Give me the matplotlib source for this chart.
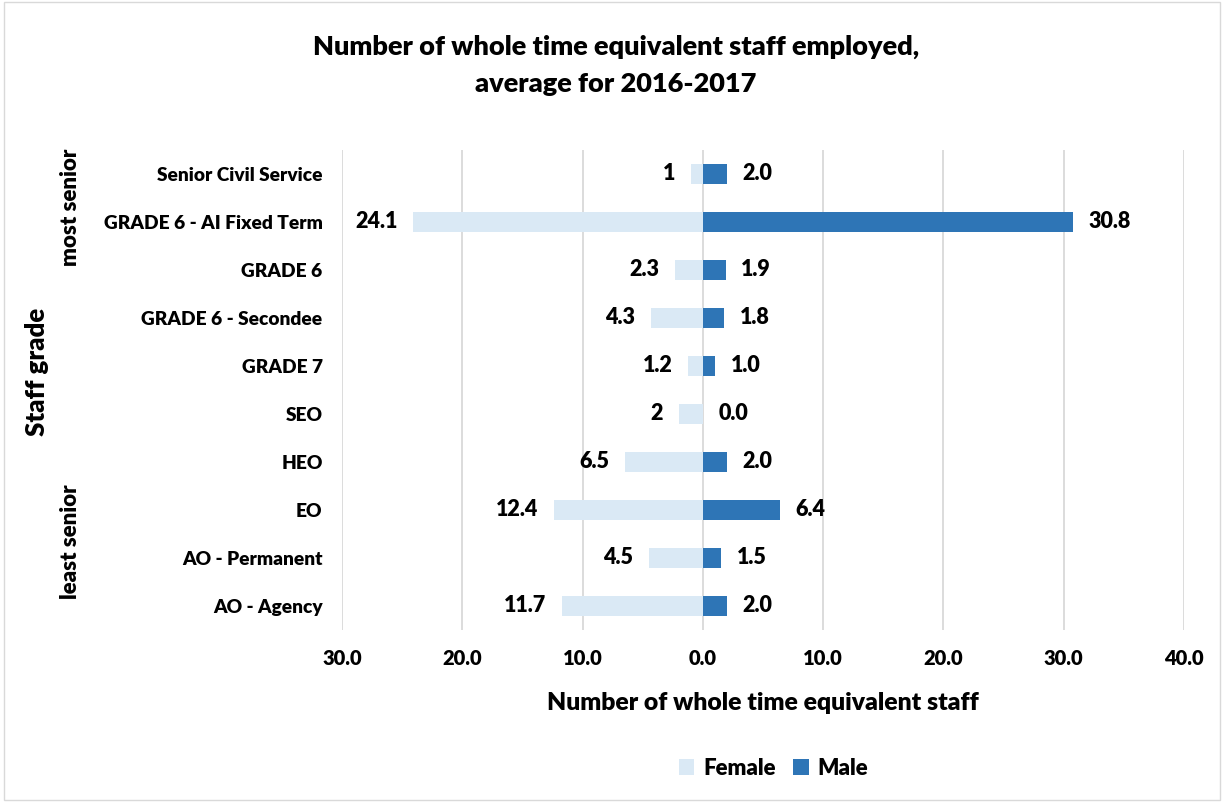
"""
Staff grade by gender: diverging horizontal bar chart.
"""

import numpy as np
import matplotlib.pyplot as plt
from matplotlib.patches import Rectangle

plt.rcParams['font.family'] = ['Lato', 'DejaVu Sans']
plt.rcParams['font.weight'] = 'heavy'
W = 'heavy'

# Data (top to bottom)
grades = ['Senior Civil Service', 'GRADE 6 - AI Fixed Term', 'GRADE 6',
          'GRADE 6 - Secondee', 'GRADE 7', 'SEO', 'HEO', 'EO',
          'AO - Permanent', 'AO - Agency']
female = [1, 24.1, 2.3, 4.3, 1.2, 2, 6.5, 12.4, 4.5, 11.7]
female_labels = ['1', '24.1', '2.3', '4.3', '1.2', '2', '6.5', '12.4', '4.5', '11.7']
male = [2.0, 30.8, 1.9, 1.8, 1.0, 0.0, 2.0, 6.4, 1.5, 2.0]
x_ticks = [-30, -20, -10, 0, 10, 20, 30, 40]

female_color = '#DAE9F5'
male_color = '#2E75B6'

fig = plt.figure(figsize=(12.24, 8.02), dpi=100)
ax = fig.add_axes([0.2794, 0.2145, 0.6879, 0.5985])

y = np.arange(len(grades))
bar_h = 0.42
ax.barh(y, -np.array(female), height=bar_h, color=female_color, zorder=3, label='Female')
ax.barh(y, male, height=bar_h, color=male_color, zorder=3, label='Male')

# data labels
for yi, f, lab in zip(y, female, female_labels):
    ax.text(-f - 1.3, yi, lab, ha='right', va='center', fontsize=15.5, fontweight=W)
for yi, m in zip(y, male):
    ax.text(m + 1.3, yi, f'{m:.1f}', ha='left', va='center', fontsize=15.5, fontweight=W)

ax.set_xlim(-30, 40)
ax.set_ylim(len(grades) - 0.5, -0.5)
ax.set_xticks(x_ticks)
ax.set_xticklabels([f'{abs(t):.1f}' for t in x_ticks], fontsize=14.5, fontweight=W)
ax.set_yticks(y)
ax.set_yticklabels(grades, fontsize=13.8, fontweight=W)
ax.tick_params(axis='x', length=0, pad=14)
ax.tick_params(axis='y', length=0, pad=14)

ax.grid(axis='x', color='#D9D9D9', linewidth=1.3, zorder=0)
for s in ax.spines.values():
    s.set_visible(False)

ax.set_xlabel('Number of whole time equivalent staff', fontsize=17.8, fontweight=W, labelpad=17)

fig.text(0.503, 0.918, 'Number of whole time equivalent staff employed,\naverage for 2016-2017',
         ha='center', va='center', fontsize=19.5, fontweight=W, linespacing=1.65)

fig.text(0.030, 0.536, 'Staff grade', rotation=90, ha='center', va='center',
         fontsize=18.5, fontweight=W)
fig.text(0.058, 0.741, 'most senior', rotation=90, ha='center', va='center',
         fontsize=16, fontweight=W)
fig.text(0.058, 0.324, 'least senior', rotation=90, ha='center', va='center',
         fontsize=16, fontweight=W)

fig.legend(loc='center', bbox_to_anchor=(0.632, 0.042), ncol=2, frameon=False,
           fontsize=16, handlelength=0.7, handleheight=0.7, columnspacing=0.8,
           handletextpad=0.4)

# outer chart border
fig.patches.append(Rectangle((0.003, 0.003), 0.994, 0.994, transform=fig.transFigure,
                             fill=False, edgecolor='#D9D9D9', linewidth=1))

fig.savefig('out.png', dpi=100)
